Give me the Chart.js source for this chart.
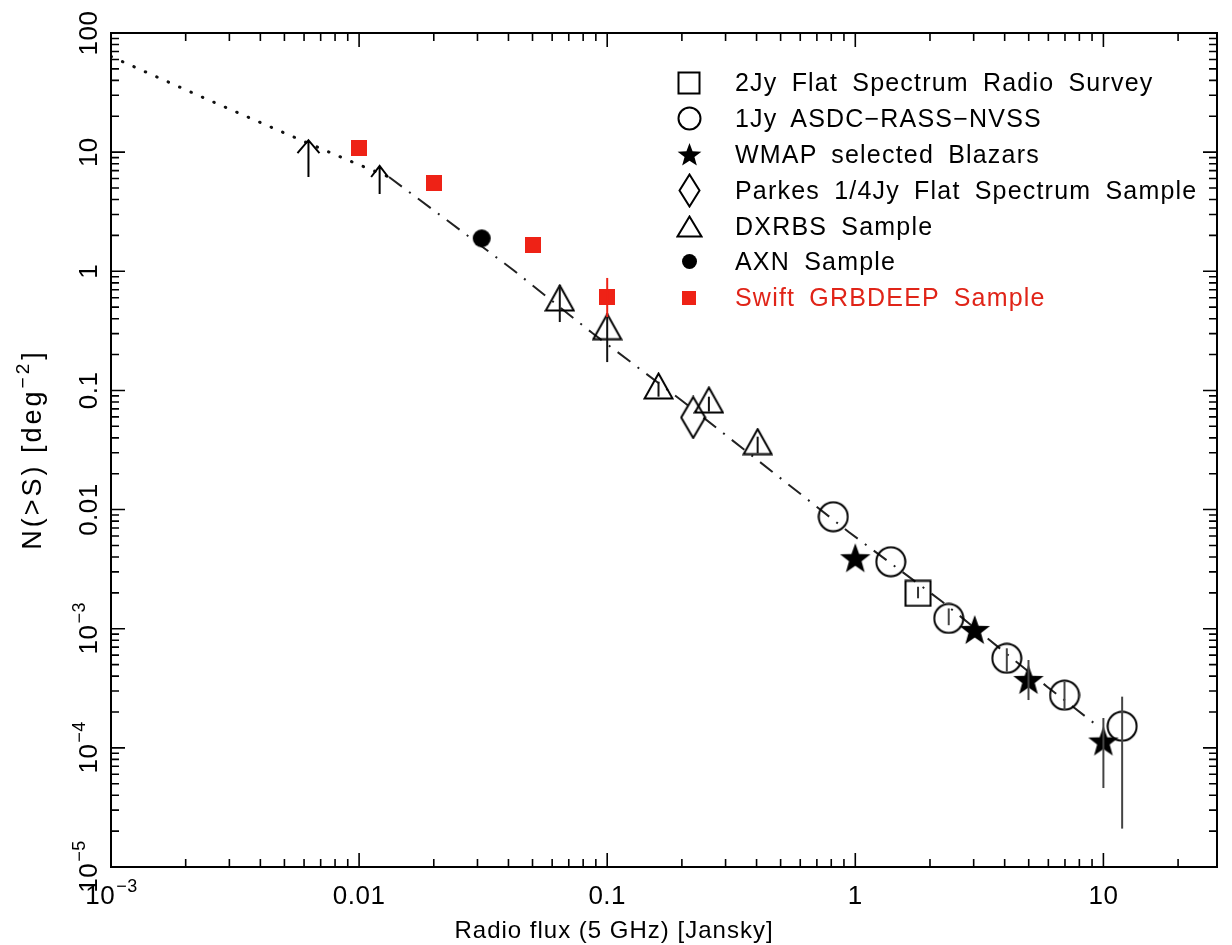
<!DOCTYPE html>
<html>
<head>
<meta charset="utf-8">
<title>N(>S) blazar counts</title>
<script src="https://cdn.jsdelivr.net/npm/chart.js@4.4.1/dist/chart.umd.min.js"></script>
<style>
  html, body { margin: 0; padding: 0; background: #fff; }
  #wrap { position: relative; width: 1232px; height: 945px; }
  #legend {
    position: absolute; left: 672px; top: 65px;
    font-family: "Liberation Sans", Arial, sans-serif; font-size: 25px;
    letter-spacing: 1.2px; word-spacing: 6px; color: #000;
  }
  .row { height: 35.8px; display: flex; align-items: center; white-space: nowrap; }
  .sym { width: 34px; display: flex; justify-content: center; align-items: center; }
  .txt { margin-left: 29px; }
  .red { color: #e02418; }
</style>
</head>
<body>
<div id="wrap">
  <canvas id="chart" width="1232" height="945"></canvas>
  <div id="legend"></div>
</div>
<script>
// ── values ─────────────────────────────────────────────────
const modelFaintX  = [0.001, 0.00239, 0.00503, 0.00955, 0.0132];
const modelFaintY  = [63.5, 28.3, 14.4, 8.15, 6.18];
const modelBrightX = [0.0132, 0.0220, 0.0418, 0.0871, 0.2026, 0.4627, 0.938, 2.242, 5.93, 9.72];
const modelBrightY = [6.18, 2.80, 1.025, 0.303, 0.0804, 0.02078, 0.00652, 0.001685, 3.26e-4, 1.467e-4];

const twoJyX  = [1.79];
const twoJyY  = [0.00198];
const twoJyLo = [0.0018];
const twoJyHi = [0.00225];

const oneJyX  = [0.815, 1.39, 2.38, 4.08, 6.97, 11.9];
const oneJyY  = [0.00871, 0.00365, 0.00122, 0.000565, 0.000277, 0.000152];
const oneJyLo = [null, null, 0.00107, 0.000436, 0.000208, 0.000021];
const oneJyHi = [null, null, 0.00148, 0.000685, 0.000359, 0.000269];

const wmapX  = [1.0, 3.03, 4.99, 10];
const wmapY  = [0.0039, 0.000975, 0.000371, 0.000113];
const wmapLo = [null, null, 0.000252, 0.000046];
const wmapHi = [null, null, 0.000546, 0.000178];

const parkesX = [0.222];
const parkesY = [0.0593];

const dxrbsX  = [0.0644, 0.1, 0.161, 0.257, 0.404];
const dxrbsY  = [0.597, 0.343, 0.109, 0.0831, 0.0372];
const dxrbsLo = [0.375, 0.173, 0.0886, 0.0664, 0.0297];
const dxrbsHi = [0.767, 0.447, 0.1184, 0.0886, 0.0409];

const axnX = [0.0312];
const axnY = [1.89];

const swiftX  = [0.01, 0.0201, 0.0503, 0.1];
const swiftY  = [10.9, 5.48, 1.66, 0.612];
const swiftLo = [null, null, null, 0.413];
const swiftHi = [null, null, null, 0.879];

// lower limits drawn as upward arrows
const limitX    = [0.00625, 0.0121];
const limitFrom = [6.18, 4.45];
const limitTo   = [12.6, 7.65];

const xTickVals = [0.001, 0.01, 0.1, 1, 10];
const xTickText = [["10", "−3"], "0.01", "0.1", "1", "10"];
const yTickVals = [100, 10, 1, 0.1, 0.01, 0.001, 0.0001, 0.00001];
const yTickText = ["100", "10", "1", "0.1", "0.01", ["10", "−3"], ["10", "−4"], ["10", "−5"]];

const legendNames = [
  "2Jy Flat Spectrum Radio Survey",
  "1Jy ASDC−RASS−NVSS",
  "WMAP selected Blazars",
  "Parkes 1/4Jy Flat Spectrum Sample",
  "DXRBS Sample",
  "AXN Sample",
  "Swift GRBDEEP Sample"
];

const RED  = "#ee2216";
const FONT = '"Liberation Sans", Arial, sans-serif';

// ── marker images ──────────────────────────────────────────
function makeCanvas(w, h, draw) {
  const c = document.createElement("canvas");
  c.width = Math.ceil(w); c.height = Math.ceil(h);
  const g = c.getContext("2d");
  g.lineWidth = 2; g.strokeStyle = "#000"; g.fillStyle = "#000";
  draw(g, c.width, c.height);
  return c;
}
const openSquare = s => makeCanvas(s + 3, s + 3, (g, w, h) => g.strokeRect(1.5, 1.5, s, s));
const openCircle = d => makeCanvas(d + 3, d + 3, (g, w, h) => { g.beginPath(); g.arc(w / 2, h / 2, d / 2, 0, Math.PI * 2); g.stroke(); });
const filledDot  = d => makeCanvas(d + 2, d + 2, (g, w, h) => { g.beginPath(); g.arc(w / 2, h / 2, d / 2, 0, Math.PI * 2); g.fill(); });
const redSquare  = s => makeCanvas(s, s, (g, w, h) => { g.fillStyle = RED; g.fillRect(0, 0, s, s); });
const diamond = (dw, dh) => makeCanvas(dw + 3, dh + 3, (g, w, h) => {
  g.beginPath(); g.moveTo(w / 2, 1.5); g.lineTo(w - 1.5, h / 2); g.lineTo(w / 2, h - 1.5); g.lineTo(1.5, h / 2); g.closePath(); g.stroke();
});
const triangle = (tw, th) => makeCanvas(tw + 3, th + 3, (g, w, h) => {
  g.beginPath(); g.moveTo(w / 2, 1.5); g.lineTo(w - 1.5, h - 1.5); g.lineTo(1.5, h - 1.5); g.closePath(); g.stroke();
});
const star = (R, r) => makeCanvas(2 * R + 2, 2 * R + 2, (g, w, h) => {
  g.beginPath();
  for (let i = 0; i < 10; i++) {
    const a = -Math.PI / 2 + i * Math.PI / 5;
    const rad = i % 2 ? r : R;
    g.lineTo(w / 2 + rad * Math.cos(a), h / 2 + 1 + rad * Math.sin(a));
  }
  g.closePath(); g.fill();
});

const mk = {
  square: openSquare(25), circle: openCircle(29), star: star(16, 6.6),
  diamond: diamond(24, 41), triangle: triangle(28, 25), dot: filledDot(18), red: redSquare(16)
};
const legendMk = [openSquare(21), openCircle(22), star(12.5, 5.2), diamond(20, 32), triangle(24, 20), filledDot(15), redSquare(14)];

// ── legend ────────────────────────────────────────────────
const legendEl = document.getElementById("legend");
legendNames.forEach((name, i) => {
  const row = document.createElement("div");
  row.className = "row";
  const img = new Image();
  img.src = legendMk[i].toDataURL();
  const sym = document.createElement("span");
  sym.className = "sym";
  sym.appendChild(img);
  const txt = document.createElement("span");
  txt.className = "txt" + (i === 6 ? " red" : "");
  txt.textContent = name;
  row.appendChild(sym); row.appendChild(txt);
  legendEl.appendChild(row);
});

// ── helpers ───────────────────────────────────────────────
const pts = (xs, ys) => xs.map((x, i) => ({ x, y: ys[i] }));
function markerSet(label, xs, ys, img, lo, hi, errColor) {
  return {
    label, data: pts(xs, ys), pointStyle: img, pointRadius: 14, showLine: false,
    errLo: lo || null, errHi: hi || null, errColor: errColor || "#333", order: 1
  };
}

function drawLabel(ctx, text, x, y, size) {
  ctx.textAlign = "left";
  ctx.textBaseline = "alphabetic";
  if (Array.isArray(text)) {
    ctx.font = `${size}px ${FONT}`;
    const wb = ctx.measureText(text[0]).width;
    ctx.font = `${Math.round(size * 0.68)}px ${FONT}`;
    const we = ctx.measureText(text[1]).width;
    const x0 = x - (wb + we) / 2;
    ctx.font = `${size}px ${FONT}`;
    ctx.fillText(text[0], x0, y);
    ctx.font = `${Math.round(size * 0.68)}px ${FONT}`;
    ctx.fillText(text[1], x0 + wb + 1, y - size * 0.45);
  } else {
    ctx.font = `${size}px ${FONT}`;
    const w = ctx.measureText(text).width;
    ctx.fillText(text, x - w / 2, y);
  }
}

// ── plugins ───────────────────────────────────────────────
const errorBars = {
  id: "errorBars",
  afterDatasetsDraw(chart) {
    const { ctx, scales: { x, y } } = chart;
    ctx.save();
    ctx.lineWidth = 2;
    chart.data.datasets.forEach(ds => {
      if (!ds.errLo) return;
      ctx.strokeStyle = ds.errColor;
      ds.data.forEach((p, i) => {
        if (ds.errLo[i] == null) return;
        const px = x.getPixelForValue(p.x);
        ctx.beginPath();
        ctx.moveTo(px, y.getPixelForValue(ds.errLo[i]));
        ctx.lineTo(px, y.getPixelForValue(ds.errHi[i]));
        ctx.stroke();
      });
    });
    // lower-limit arrows
    ctx.strokeStyle = "#000";
    limitX.forEach((v, i) => {
      const px = x.getPixelForValue(v);
      const y0 = y.getPixelForValue(limitFrom[i]);
      const y1 = y.getPixelForValue(limitTo[i]);
      const hw = i === 0 ? 11 : 8.5, hh = i === 0 ? 13 : 11;
      ctx.beginPath();
      ctx.moveTo(px, y0); ctx.lineTo(px, y1);
      ctx.moveTo(px - hw, y1 + hh); ctx.lineTo(px, y1); ctx.lineTo(px + hw, y1 + hh);
      ctx.stroke();
    });
    ctx.restore();
  }
};

const frame = {
  id: "frame",
  afterDraw(chart) {
    const { ctx, chartArea: a, scales: { x, y } } = chart;
    ctx.save();
    ctx.strokeStyle = "#000";
    ctx.lineWidth = 2;
    ctx.strokeRect(a.left, a.top, a.right - a.left, a.bottom - a.top);
    ctx.lineWidth = 1.6;
    ctx.beginPath();
    for (let e = -3; e <= 1; e++) {
      for (let m = 1; m <= 9; m++) {
        const v = m * Math.pow(10, e);
        if (v > x.max) continue;
        const px = x.getPixelForValue(v);
        const len = m === 1 ? 14 : 8;
        ctx.moveTo(px, a.bottom); ctx.lineTo(px, a.bottom - len);
        ctx.moveTo(px, a.top); ctx.lineTo(px, a.top + len);
      }
    }
    for (let e = -5; e <= 2; e++) {
      for (let m = 1; m <= 9; m++) {
        const v = m * Math.pow(10, e);
        if (v > y.max * 1.0001) continue;
        const py = y.getPixelForValue(v);
        const len = m === 1 ? 14 : 8;
        ctx.moveTo(a.left, py); ctx.lineTo(a.left + len, py);
        ctx.moveTo(a.right, py); ctx.lineTo(a.right - len, py);
      }
    }
    ctx.stroke();

    ctx.fillStyle = "#000";
    if ("letterSpacing" in ctx) ctx.letterSpacing = "0.5px";
    xTickVals.forEach((v, i) => drawLabel(ctx, xTickText[i], x.getPixelForValue(v), 904, 26));
    yTickVals.forEach((v, i) => {
      ctx.save();
      ctx.translate(97, y.getPixelForValue(v));
      ctx.rotate(-Math.PI / 2);
      drawLabel(ctx, yTickText[i], 0, 0, 26);
      ctx.restore();
    });

    // axis titles
    if ("letterSpacing" in ctx) ctx.letterSpacing = "1px";
    ctx.font = `24px ${FONT}`;
    ctx.textAlign = "center";
    ctx.textBaseline = "alphabetic";
    ctx.fillText("Radio flux (5 GHz) [Jansky]", 614, 938);

    ctx.save();
    ctx.translate(41, (a.top + a.bottom) / 2);
    ctx.rotate(-Math.PI / 2);
    ctx.textAlign = "left";
    if ("letterSpacing" in ctx) ctx.letterSpacing = "3px";
    const p1 = "N(>S) [deg", p2 = "−2", p3 = "]";
    ctx.font = `27px ${FONT}`;
    const w1 = ctx.measureText(p1).width, w3 = ctx.measureText(p3).width;
    ctx.font = `19px ${FONT}`;
    const w2 = ctx.measureText(p2).width;
    let cx = -(w1 + w2 + w3) / 2;
    ctx.font = `27px ${FONT}`;
    ctx.fillText(p1, cx, 0); cx += w1;
    ctx.font = `19px ${FONT}`;
    ctx.fillText(p2, cx, -12); cx += w2 + 1;
    ctx.font = `27px ${FONT}`;
    ctx.fillText(p3, cx, 0);
    ctx.restore();
    ctx.restore();
  }
};

// ── chart ─────────────────────────────────────────────────
new Chart(document.getElementById("chart"), {
  type: "scatter",
  data: {
    datasets: [
      { label: "model (extrapolated)", data: pts(modelFaintX, modelFaintY), showLine: true, pointRadius: 0,
        borderColor: "#111", borderWidth: 3, borderDash: [0.5, 12], borderCapStyle: "round", order: 10 },
      { label: "model", data: pts(modelBrightX, modelBrightY), showLine: true, pointRadius: 0,
        borderColor: "#222", borderWidth: 2, borderDash: [16, 9, 2, 9], order: 10 },
      markerSet(legendNames[0], twoJyX, twoJyY, mk.square, twoJyLo, twoJyHi),
      markerSet(legendNames[1], oneJyX, oneJyY, mk.circle, oneJyLo, oneJyHi, "#444"),
      markerSet(legendNames[2], wmapX, wmapY, mk.star, wmapLo, wmapHi, "#444"),
      markerSet(legendNames[3], parkesX, parkesY, mk.diamond),
      markerSet(legendNames[4], dxrbsX, dxrbsY, mk.triangle, dxrbsLo, dxrbsHi, "#111"),
      markerSet(legendNames[5], axnX, axnY, mk.dot),
      markerSet(legendNames[6], swiftX, swiftY, mk.red, swiftLo, swiftHi, RED)
    ]
  },
  options: {
    responsive: false,
    devicePixelRatio: 1,
    animation: false,
    layout: { padding: { left: 111, right: 2, top: 33, bottom: 78 } },
    scales: {
      x: { type: "logarithmic", min: 0.001, max: 28.7, display: false },
      y: { type: "logarithmic", min: 0.00001, max: 100, display: false }
    },
    plugins: { legend: { display: false }, tooltip: { enabled: false } }
  },
  plugins: [errorBars, frame]
});
</script>
</body>
</html>
